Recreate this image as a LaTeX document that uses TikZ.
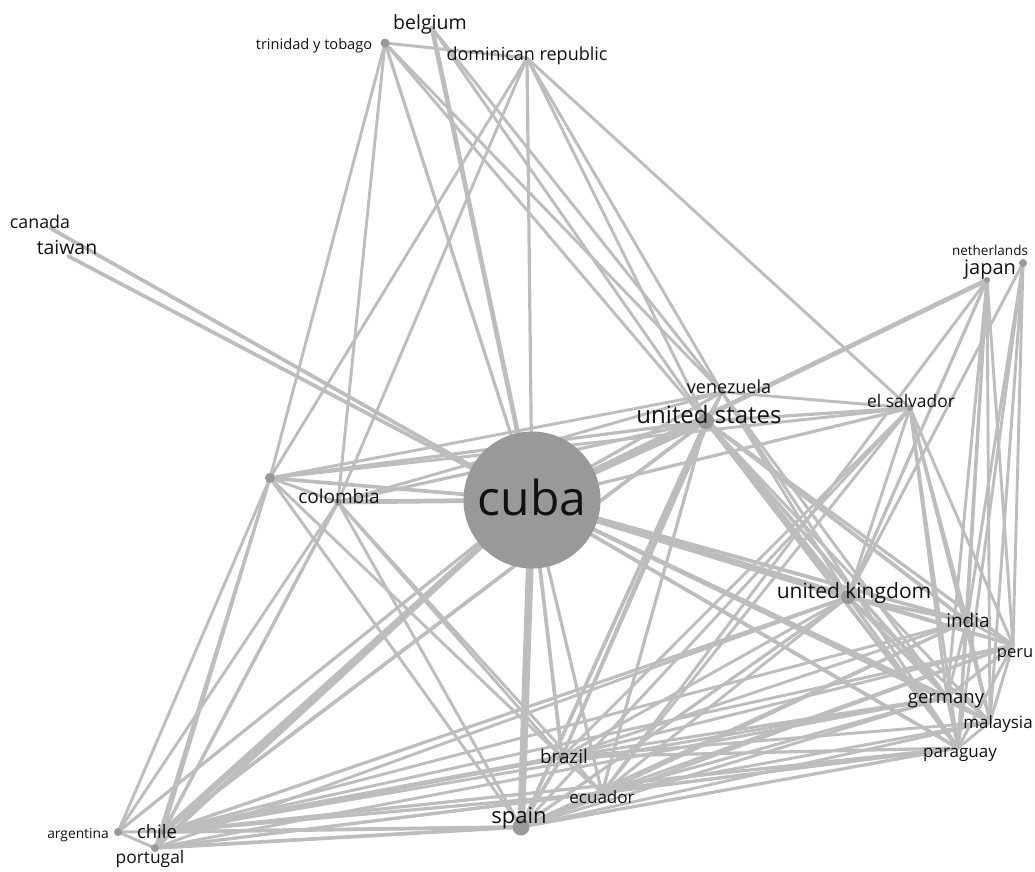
\documentclass[tikz,border=0pt]{standalone}
\usepackage{fontspec}
\setmainfont{Open Sans}
\definecolor{edgec}{HTML}{BDBDBD}
\definecolor{dotc}{HTML}{999999}
\definecolor{txt}{HTML}{111111}
\tikzset{
  edge/.style={draw=edgec, line cap=round},
  dotnode/.style={circle, fill=dotc, inner sep=0pt},
  lbl/.style={anchor=base, inner sep=0pt, text=txt}
}
\newcommand{\fs}[1]{\fontsize{#1}{#1}\selectfont}
\begin{document}
\begin{tikzpicture}[x=1pt,y=-1pt]
\useasboundingbox[fill=white] (0,0) rectangle (1035,871);
% coordinates
\coordinate (cu) at (532,500);
\coordinate (us) at (706,421);
\coordinate (ve) at (722,392);
\coordinate (es) at (910,408);
\coordinate (jp) at (987,280);
\coordinate (nl) at (1023,263);
\coordinate (uk) at (848,597);
\coordinate (in) at (967,621);
\coordinate (pe) at (1013,645);
\coordinate (de) at (947,697);
\coordinate (my) at (990,722);
\coordinate (py) at (958,748);
\coordinate (br) at (562,757);
\coordinate (ec) at (602,793);
\coordinate (sp) at (521,827);
\coordinate (ar) at (118,832);
\coordinate (cl) at (163,832);
\coordinate (pt) at (155,848);
\coordinate (co) at (338,502);
\coordinate (mx) at (270,478);
\coordinate (tt) at (385,43);
\coordinate (be) at (432,28);
\coordinate (do) at (527,58);
\coordinate (ca) at (50,228);
\coordinate (tw) at (68,256);
% edges
\foreach \a/\b/\w in {
 cu/sp/7, cu/us/6, cu/uk/6, cu/cl/5, cu/jp/4, cu/be/4, cu/co/4, cu/pt/3.5, cu/mx/3,
 cu/ca/3, cu/tw/3, cu/tt/2.5, cu/do/2.5, cu/ve/2.5, cu/es/2.5, cu/in/3, cu/pe/2.5,
 cu/de/3, cu/py/3, cu/my/2.5, cu/br/3, cu/ec/2.5, cu/ar/2.5,
 us/uk/4, us/in/3, us/pe/2.5, us/de/3, us/py/3, us/my/2.2, us/br/2.5, us/ec/2.5,
 us/sp/3, us/cl/3, us/co/2.5, us/mx/2.5, us/es/2.5, us/ve/2.2, us/tt/2.2, us/do/2.2, us/be/2.2,
 ve/es/2.2, ve/tt/2.2, ve/do/2.2, ve/mx/2.2, ve/co/2.2, ve/uk/2.2, ve/py/2.2, ve/br/2.2, ve/de/2.2,
 es/uk/2.2, es/in/2.2, es/pe/2.2, es/de/2.2, es/my/2.2, es/py/2.2, es/br/2.2, es/ec/2.2,
 es/sp/2.2, es/do/2.2, es/mx/2.2,
 jp/uk/2.5, jp/in/2.2, jp/de/2.2, jp/my/2.2, jp/py/2.2, jp/pe/2.2, jp/ec/2.2,
 nl/uk/2.2, nl/pe/2.2, nl/my/2.2, nl/in/2.2, nl/py/2.2,
 uk/in/3, uk/pe/2.5, uk/de/2.5, uk/py/2.5, uk/my/2.2, uk/br/2.2, uk/ec/2.2, uk/sp/2.5,
 uk/cl/2.5, uk/pt/2.2,
 in/pe/2.2, in/de/2.2, in/py/2.2, in/my/2.2, in/br/2.2, in/ec/2.2, in/sp/2.2, in/cl/2.2,
 pe/de/2.2, pe/py/2.2, pe/my/2.2, pe/br/2.2, pe/ec/2.2, pe/sp/2.2, pe/cl/2.2,
 de/py/2.2, de/my/2.2, de/br/2.2, de/ec/2.2, de/sp/2.2, de/cl/2.2, de/pt/2.2,
 py/my/2.2, py/br/2.5, py/ec/2.2, py/sp/2.5, py/cl/2.5, py/pt/2.2,
 my/br/2.2, my/ec/2.2, my/sp/2.2,
 br/ec/2.2, br/sp/3, br/cl/4, br/co/2.2, br/mx/2.2,
 ec/sp/2.5, ec/cl/2.5, ec/pt/2.2, ec/co/2.2,
 sp/cl/3, sp/pt/3, sp/ar/2.2, sp/co/2.2, sp/mx/2.2,
 cl/ar/2.2, cl/pt/2.2, cl/co/2.5, cl/mx/2.2,
 ar/mx/2.2, ar/co/2.2, ar/pt/2.2,
 pt/mx/2.2, pt/co/2.2,
 mx/tt/2.2, mx/do/2.2, mx/co/2.2,
 co/tt/2.2, co/do/2.2, tt/do/2.2, be/ve/2.2}
 {\draw[edge, line width={\w pt + 0.7pt}] (\a) -- (\b);}
% dots
\node[dotnode, minimum size=137pt] (cuD) at (cu) {};
\node[dotnode, minimum size=16pt] (usD) at (us) {};
\node[dotnode, minimum size=17pt] (spD) at (sp) {};
\node[dotnode, minimum size=14pt] (ukD) at (uk) {};
\node[dotnode, minimum size=9pt] (ttD) at (tt) {};
\node[dotnode, minimum size=10pt] (mxD) at (mx) {};
\node[dotnode, minimum size=8pt] (nlD) at (nl) {};
\node[dotnode, minimum size=8pt] (arD) at (ar) {};
\node[dotnode, minimum size=8pt] (ptD) at (pt) {};
\node[dotnode, minimum size=7pt] (coD) at (co) {};
\node[dotnode, minimum size=7pt] (brD) at (br) {};
\node[dotnode, minimum size=6pt] (veD) at (ve) {};
\node[dotnode, minimum size=6pt] (esD) at (es) {};
\node[dotnode, minimum size=6pt] (jpD) at (jp) {};
\node[dotnode, minimum size=6pt] (inD) at (in) {};
\node[dotnode, minimum size=6pt] (clD) at (cl) {};
% labels
\node[lbl] (cuL) at (532,515) {\fs{48}cuba};
\node[lbl] (usL) at (709,423) {\fs{24}united states};
\node[lbl] (veL) at (729,393) {\fs{18}venezuela};
\node[lbl] (esL) at (911,407) {\fs{17.4}el salvador};
\node[lbl] (jpL) at (990,274) {\fs{20}japan};
\node[lbl] (nlL) at (990,255) {\fs{13.5}netherlands};
\node[lbl] (ukL) at (854,598) {\fs{21}united kingdom};
\node[lbl] (inL) at (968,627) {\fs{19}india};
\node[lbl] (peL) at (1015,657) {\fs{16.5}peru};
\node[lbl] (deL) at (946,703) {\fs{18.5}germany};
\node[lbl] (myL) at (998,728) {\fs{17}malaysia};
\node[lbl] (pyL) at (960,757) {\fs{17}paraguay};
\node[lbl] (brL) at (564,763) {\fs{18.8}brazil};
\node[lbl] (ecL) at (602,803) {\fs{17}ecuador};
\node[lbl] (spL) at (519,823) {\fs{22}spain};
\node[lbl] (arL) at (78,838) {\fs{13.8}argentina};
\node[lbl] (clL) at (157,838) {\fs{18.5}chile};
\node[lbl] (ptL) at (150,863) {\fs{17.4}portugal};
\node[lbl] (coL) at (339,503) {\fs{19}colombia};
\node[lbl] (ttL) at (314,49) {\fs{14.6}trinidad y tobago};
\node[lbl] (beL) at (430,29) {\fs{19.5}belgium};
\node[lbl] (doL) at (527,60) {\fs{18}dominican republic};
\node[lbl] (caL) at (40,228) {\fs{17.8}canada};
\node[lbl] (twL) at (67,254) {\fs{19.4}taiwan};
\end{tikzpicture}
\end{document}
